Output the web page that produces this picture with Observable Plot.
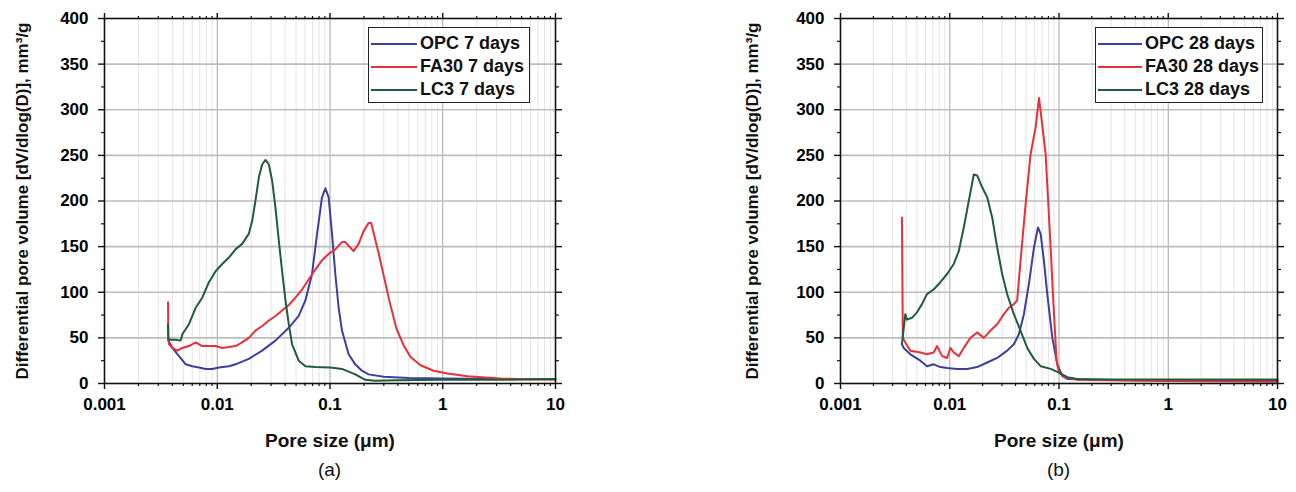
<!DOCTYPE html>
<html><head><meta charset="utf-8">
<script src="https://cdn.jsdelivr.net/npm/d3@7"></script>
<script src="https://cdn.jsdelivr.net/npm/@observablehq/plot@0.6"></script>
<style>
body{margin:0;background:#fff;font-family:"Liberation Sans",Arial,sans-serif;}
#wrap{display:flex;width:1296px;height:492px;}
.panel{position:relative;width:648px;height:492px;}
.legend{position:absolute;box-sizing:border-box;border:1.5px solid #222;background:#fff;padding-top:4px;}
.row{display:flex;align-items:center;height:23px;font-size:18px;font-weight:bold;color:#111;white-space:nowrap;}
.row span.ln{display:inline-block;height:2px;margin-right:3px;}
.cap{position:absolute;top:459px;font-size:19px;line-height:22px;text-align:center;color:#111;}
</style></head><body><div id="wrap"></div>
<script>
// ---- tick labels / axis text ----
const xMajor = [0.001, 0.01, 0.1, 1, 10];
const xMajorLabels = ["0.001", "0.01", "0.1", "1", "10"];
const xMinor = [2,3,4,5,6,7,8,9].flatMap(m => [0.001, 0.01, 0.1, 1].map(p => m * p));
const yMajor = [0, 50, 100, 150, 200, 250, 300, 350, 400];
const yMinor = [25, 75, 125, 175, 225, 275, 325, 375];
const yTitle = "Differential pore volume [dV/dlog(D)], mm³/g";
const xTitle = "Pore size (μm)";
const seriesColors = ["#3c3f9c", "#e8303a", "#1f5c3b"];

// ---- panel (a): 7 days, [pore size µm, dV/dlog(D)] ----
const opc7 = [[0.00366,48],[0.0040,39],[0.00458,30],[0.00525,21],[0.00601,19],[0.00689,17.5],[0.00788,16],[0.00903,16],[0.01035,17.5],[0.01268,19],[0.01452,21],[0.01905,27],[0.0250,36],[0.0328,47],[0.0431,61],[0.0528,74],[0.0605,91],[0.0693,120],[0.0768,164],[0.0849,204],[0.0910,214],[0.0973,204],[0.1042,164],[0.1115,120],[0.1193,83],[0.1277,58],[0.1462,32],[0.1675,21],[0.1918,14],[0.2198,10],[0.3,7.5],[0.5,6],[1,5.5],[3,5],[10,5]];
const fa7 = [[0.00366,89],[0.00368,50],[0.00373,43],[0.0040,39],[0.00442,36],[0.0049,39],[0.00561,41],[0.00643,45],[0.00736,41],[0.00844,41],[0.00967,41],[0.01107,39],[0.01268,40],[0.01452,41],[0.01663,45],[0.01905,50],[0.0218,58],[0.0250,63],[0.0287,69],[0.0328,74],[0.0376,80],[0.0431,86],[0.0493,94],[0.0565,103],[0.0647,114],[0.0742,125],[0.0849,135],[0.0973,142],[0.1115,147],[0.1277,155],[0.1367,155],[0.1462,151],[0.1618,145],[0.1794,153],[0.1987,167],[0.2198,176],[0.232,176],[0.272,141],[0.337,90],[0.389,60],[0.449,42],[0.518,29],[0.635,20],[0.829,14],[1.10,11],[1.66,8],[3.25,5.5],[10,4]];
const lc7 = [[0.00366,65],[0.00368,50],[0.00373,48],[0.00427,48],[0.00474,47],[0.0049,54],[0.00561,65],[0.00643,83],[0.00736,94],[0.00844,111],[0.00967,123],[0.01107,131],[0.01268,138],[0.01452,147],[0.01663,153],[0.01905,164],[0.0204,178],[0.0218,200],[0.0234,226],[0.0250,240],[0.0268,245],[0.0287,240],[0.0307,222],[0.0328,193],[0.0352,156],[0.0376,123],[0.0403,91],[0.0431,65],[0.0461,43],[0.0528,25],[0.0605,19],[0.0742,18],[0.1007,17.5],[0.1277,16],[0.1675,10],[0.2054,4],[0.25,3],[0.4,3.5],[1,4],[3,4],[6,4.5],[10,5]];
const labels7 = ["OPC 7 days", "FA30 7 days", "LC3 7 days"];

// ---- panel (b): 28 days ----
const opc28 = [[0.00365,43],[0.00379,39],[0.00436,32],[0.00538,25],[0.00619,19],[0.00713,21],[0.00821,18],[0.00946,17],[0.01167,16],[0.01442,16],[0.01781,18],[0.02202,23],[0.02717,28],[0.03354,36],[0.03859,43],[0.04294,54],[0.04773,76],[0.05302,109],[0.0590,149],[0.06418,171],[0.06794,164],[0.07283,134],[0.07813,98],[0.08689,50],[0.0966,21],[0.1073,8],[0.1192,5],[0.2,4],[1,3.5],[10,3.5]];
const fa28 = [[0.00365,182],[0.00372,50],[0.00392,45],[0.00436,36],[0.00538,34],[0.00619,32],[0.00713,34],[0.00765,41],[0.00851,30],[0.00946,28],[0.01014,39],[0.01088,34],[0.01209,30],[0.01344,39],[0.01547,50],[0.01781,56],[0.02052,50],[0.02362,58],[0.02717,65],[0.03126,76],[0.03473,83],[0.03859,87],[0.0414,91],[0.04444,134],[0.04943,196],[0.05491,251],[0.0611,281],[0.06561,313],[0.0689,292],[0.07543,251],[0.0820,171],[0.0880,98],[0.0950,25],[0.1,12],[0.1112,7],[0.15,4],[0.5,3],[2,2.5],[10,2]];
const lc28 = [[0.00365,43],[0.00392,76],[0.00406,70],[0.00451,72],[0.00501,78],[0.00557,87],[0.00619,98],[0.00713,103],[0.00821,111],[0.00946,120],[0.01088,131],[0.01209,145],[0.01344,171],[0.01493,200],[0.0166,229],[0.01781,228],[0.01981,215],[0.02202,204],[0.02446,182],[0.02717,149],[0.03019,120],[0.03354,98],[0.03859,76],[0.04444,58],[0.05119,39],[0.059,27],[0.06794,19],[0.0839,16],[0.1,12],[0.1192,7],[0.1472,5],[0.3,4.5],[1,4.5],[10,4.5]];
const labels28 = ["OPC 28 days", "FA30 28 days", "LC3 28 days"];

const toRows = arr => arr.map(([d, v]) => ({d, v}));

function panel(series, labels, cfg) {
  const fmt = d => xMajorLabels[xMajor.indexOf(d)];
  const chart = Plot.plot({
    width: 648, height: 455,
    marginLeft: cfg.ml, marginRight: cfg.mr, marginTop: 18, marginBottom: 72,
    style: {fontFamily: "'Liberation Sans', Arial, sans-serif", fontSize: "17px", overflow: "visible", background: "transparent"},
    x: {type: "log", domain: [0.001, 10], label: null},
    y: {domain: [0, 400], label: null},
    marks: [
      Plot.ruleX(xMinor, {stroke: "#e4e4e4", strokeWidth: 1}),
      Plot.ruleX(xMajor, {stroke: "#a6a6a6", strokeWidth: 1}),
      Plot.ruleY(yMajor.filter(v => v > 0 && v < 400), {stroke: "#bdbdbd", strokeWidth: 1.6}),
      ...series.map((s, i) => Plot.line(toRows(s), {x: "d", y: "v", stroke: seriesColors[i], strokeWidth: 2})),
      Plot.frame({stroke: "#111", strokeWidth: 1.6}),
      Plot.axisX(xMajor, {tickSize: 6, tickPadding: 8, tickFormat: fmt, fontSize: 17, fontWeight: "bold", label: null, stroke: "#111", strokeWidth: 1.4}),
      Plot.axisX(xMinor, {tickSize: 3, fill: "none", label: null, stroke: "#111", strokeWidth: 1.2}),
      Plot.axisX(xMajor, {anchor: "top", tickSize: 6, fill: "none", label: null, stroke: "#111", strokeWidth: 1.4}),
      Plot.axisX(xMinor, {anchor: "top", tickSize: 3, fill: "none", label: null, stroke: "#111", strokeWidth: 1.2}),
      Plot.axisY(yMajor, {tickSize: 6, tickPadding: 10, fontSize: 17, fontWeight: "bold", label: null, stroke: "#111", strokeWidth: 1.4}),
      Plot.axisY(yMinor, {tickSize: 3, fill: "none", label: null, stroke: "#111", strokeWidth: 1.2}),
      Plot.axisY(yMajor, {anchor: "right", tickSize: 6, fill: "none", label: null, stroke: "#111", strokeWidth: 1.4}),
      Plot.axisY(yMinor, {anchor: "right", tickSize: 3, fill: "none", label: null, stroke: "#111", strokeWidth: 1.2}),
      Plot.text([yTitle], {text: d => d, frameAnchor: "left", textAnchor: "middle", lineAnchor: "middle", rotate: -90, dx: cfg.ytDx, fontSize: 17, fontWeight: "bold", fill: "#111"}),
      Plot.text([xTitle], {text: d => d, frameAnchor: "bottom", textAnchor: "middle", lineAnchor: "middle", dy: 57, fontSize: 19, fontWeight: "bold", fill: "#111"})
    ]
  });
  const div = document.createElement("div");
  div.className = "panel";
  div.appendChild(chart);
  const lg = document.createElement("div");
  lg.className = "legend";
  Object.assign(lg.style, {left: cfg.lgLeft + "px", top: "27px", width: cfg.lgW + "px", height: "76px"});
  labels.forEach((lab, i) => {
    const r = document.createElement("div");
    r.className = "row";
    const ln = document.createElement("span");
    ln.className = "ln";
    Object.assign(ln.style, {width: cfg.lnW + "px", background: seriesColors[i], marginLeft: "2px"});
    const t = document.createElement("span");
    t.textContent = lab;
    r.appendChild(ln); r.appendChild(t);
    lg.appendChild(r);
  });
  div.appendChild(lg);
  const cap = document.createElement("div");
  cap.className = "cap";
  Object.assign(cap.style, {left: cfg.ml + "px", width: (648 - cfg.ml - cfg.mr) + "px"});
  cap.textContent = cfg.cap;
  div.appendChild(cap);
  document.getElementById("wrap").appendChild(div);
}

panel([opc7, fa7, lc7], labels7, {ml: 104, mr: 93, ytDx: -82, lgLeft: 368, lgW: 162, lnW: 46, cap: "(a)"});
panel([opc28, fa28, lc28], labels28, {ml: 192, mr: 19, ytDx: -88, lgLeft: 447, lgW: 168, lnW: 44, cap: "(b)"});
</script></body></html>
